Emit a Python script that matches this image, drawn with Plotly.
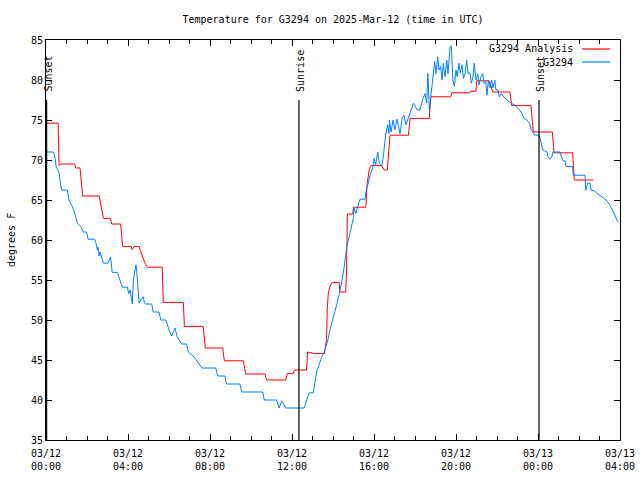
import pandas as pd
import plotly.graph_objects as go

# ---------------- data (hours since 2025-03-12 00:00 UTC, degrees F) -------------
analysis_hours = [0.0, 0.59, 0.64, 0.72, 1.4, 1.45, 1.66, 1.79, 2.6, 2.8, 3.15, 3.2, 3.64, 3.74,
                  4.16, 4.2, 4.3, 4.54, 4.6, 4.86, 4.95, 5.67, 5.72, 6.7, 6.75, 7.67, 7.77,
                  8.62, 8.7, 9.63, 9.74, 10.68, 10.76, 11.69, 11.77, 12.07, 12.11, 12.71,
                  12.76, 13.09, 13.58, 13.69, 13.72, 13.77, 13.85, 13.96, 14.3, 14.33, 14.62,
                  14.66, 14.7, 14.96, 15.0, 15.6, 15.67, 15.76, 15.84, 16.37, 16.5, 16.65,
                  16.68, 16.78, 17.68, 17.76, 18.7, 18.77, 19.74, 19.8, 20.68, 20.72, 20.98,
                  21.0, 21.62, 21.79, 22.63, 22.72, 23.66, 23.77, 24.7, 24.75, 24.78, 25.69,
                  25.77, 26.7]
analysis_temp = [74.6, 74.6, 69.3, 69.5, 69.5, 69.0, 69.0, 65.5, 65.5, 62.7, 62.7, 62.0, 62.0, 59.2,
                 59.2, 58.8, 59.2, 59.2, 58.7, 56.9, 56.6, 56.6, 52.2, 52.2, 49.2, 49.2, 46.5,
                 46.5, 44.9, 44.9, 43.25, 43.25, 42.5, 42.5, 43.3, 43.3, 43.75, 43.75,
                 46.0, 45.8, 45.8, 47.7, 51.4, 53.3, 54.2, 54.7, 54.7, 53.5, 53.5,
                 56.25, 63.25, 63.25, 64.1, 64.1, 67.1, 68.7, 69.3, 69.3, 68.75, 68.75,
                 69.8, 73.1, 73.1, 75.2, 75.2, 77.9, 77.9, 78.4, 78.4, 78.6, 78.6,
                 79.9, 79.9, 78.5, 78.5, 76.8, 76.8, 73.5, 73.5, 72.0, 70.9, 70.9,
                 67.5, 67.5]

obs_hours = [0.0, 0.36, 0.42, 0.5, 0.63, 0.75, 1.04, 1.12, 1.28, 1.41, 1.53, 1.69, 1.82, 1.98,
             2.05, 2.37, 2.44, 2.5, 2.54, 2.59, 2.63, 2.8, 3.02, 3.15, 3.23, 3.48, 3.58, 3.72,
             3.97, 4.03, 4.1, 4.21, 4.26, 4.39, 4.42, 4.54, 4.63, 4.75, 4.8, 4.86, 5.16, 5.23,
             5.51, 5.6, 5.85, 5.97, 6.13, 6.29, 6.4, 6.62, 6.86, 6.94, 7.22, 7.32, 7.6, 8.28,
             8.38, 8.73, 8.81, 9.46, 9.55, 10.57, 10.65, 11.25, 11.37, 11.5, 11.58, 11.69,
             12.59, 12.72, 12.83, 13.04, 13.12, 13.2, 13.32, 13.41, 13.58, 13.69, 13.77,
             13.85, 13.97, 14.06, 14.18, 14.29, 14.42, 14.5, 14.59, 14.67, 14.75, 14.83,
             14.91, 14.99, 15.02, 15.12, 15.19, 15.32, 15.56, 15.64, 15.72, 15.77, 15.83,
             15.94, 16.01, 16.08, 16.18, 16.26, 16.38, 16.45, 16.54, 16.59, 16.67, 16.73,
             16.75, 16.83, 16.93, 17.02, 17.12, 17.19, 17.27, 17.37, 17.46, 17.56, 17.79,
             17.92, 18.11, 18.24, 18.39, 18.49, 18.57, 18.63, 18.7, 18.78, 18.88, 18.96,
             19.02, 19.11, 19.17, 19.25, 19.32, 19.38, 19.46, 19.55, 19.61, 19.71, 19.77,
             19.85, 19.92, 20.0, 20.06, 20.15, 20.21, 20.29, 20.36, 20.44, 20.52, 20.59,
             20.68, 20.75, 20.83, 20.89, 20.98, 21.06, 21.12, 21.22, 21.3, 21.37, 21.45,
             21.51, 21.58, 21.66, 21.74, 21.8, 21.89, 21.95, 22.05, 22.11, 22.2, 22.29,
             22.49, 22.63, 22.83, 23.02, 23.17, 23.32, 23.46, 23.61, 23.67, 23.76, 23.84,
             24.05, 24.1, 24.16, 24.24, 24.44, 24.49, 24.59, 24.68, 24.73, 25.07, 25.14,
             25.22, 25.32, 25.37, 25.69, 25.72, 26.29, 26.33, 26.42, 26.54, 26.59, 26.78,
             26.89, 27.02, 27.17, 27.32, 27.45, 27.56, 27.66, 27.76, 27.85, 27.92]
obs_temp = [71.0, 71.0, 70.6, 69.1, 68.5, 66.25, 66.25, 65.0, 64.2, 63.3, 62.1, 61.7, 61.0, 61.0,
            60.1, 60.1, 59.6, 58.75, 59.1, 58.0, 58.5, 57.1, 57.1, 57.9, 55.95, 55.95, 55.2, 54.1,
            54.1, 53.3, 53.75, 52.0, 55.0, 56.9, 56.25, 52.1, 52.5, 52.9, 52.1, 52.0, 52.0, 51.0,
            51.0, 50.0, 50.0, 49.0, 48.0, 49.0, 47.9, 47.0, 47.0, 46.0, 45.4, 45.0, 44.0, 44.0,
            43.0, 43.0, 42.0, 42.0, 41.0, 41.0, 40.0, 40.0, 39.0, 39.9, 39.6, 39.0,
            39.0, 40.0, 40.9, 40.9, 42.5, 43.5, 44.4, 45.1, 46.0, 46.9, 47.7,
            48.75, 49.8, 50.8, 51.9, 53.1, 54.6, 55.8, 57.5, 59.2, 60.0, 60.8,
            61.9, 62.7, 64.0, 63.3, 64.0, 65.1, 65.1, 66.5, 67.1, 67.7, 68.3,
            69.0, 70.2, 69.4, 71.0, 69.6, 69.2, 70.4, 72.3, 73.5, 74.4, 73.3,
            75.0, 73.5, 75.0, 73.75, 75.1, 74.2, 73.3, 75.2, 75.6, 74.4, 76.25,
            77.1, 76.25, 76.25, 77.7, 78.3, 77.1, 80.8, 76.25, 78.3, 80.0, 82.3,
            80.8, 82.9, 81.25, 81.7, 80.0, 82.1, 80.4, 82.5, 80.8, 84.2, 84.25,
            80.0, 79.2, 81.25, 80.4, 82.1, 80.9, 81.9, 80.2, 80.8, 82.5, 80.8,
            80.9, 79.6, 80.4, 82.1, 80.0, 80.8, 79.4, 80.4, 80.8, 79.6, 79.8,
            78.1, 80.0, 79.0, 80.0, 79.0, 80.0, 78.75, 78.75, 77.9, 78.3, 78.0,
            77.5, 77.2, 76.9, 76.5, 76.0, 75.2, 75.0, 74.5, 73.8, 73.5, 73.1,
            73.1, 72.7, 72.1, 71.25, 71.0, 70.4, 70.1, 70.4, 71.0, 71.0, 70.4,
            69.9, 69.9, 69.2, 69.2, 68.1, 68.1, 66.2, 67.1, 67.1, 66.25, 66.1,
            65.8, 65.6, 65.3, 65.0, 64.6, 64.1, 63.5, 63.0, 62.5, 62.2]

sun_events = ["Sunset", "Sunrise", "Sunset"]
sun_hours = [0.03, 12.34, 24.05]
sun_line_top = 77.5

series_names = ["G3294 Analysis", "G3294"]
series_colors = ["#ff0000", "#0080ff"]

title_text = "Temperature for G3294 on 2025-Mar-12 (time in UTC)"
y_label = "degrees F"
start = pd.Timestamp("2025-03-12 00:00")
end = pd.Timestamp("2025-03-13 04:00")

# ---------------- figure -------------------------------------------------------
def to_time(hours):
    return [start + pd.Timedelta(hours=h) for h in hours]

FONT = "DejaVu Sans Mono"
FW, FH = 640, 480
ML, MR, MT, MB = 46, 20, 40, 40
PW = FW - ML - MR
PH = FH - MT - MB

fig = go.Figure()

fig.add_trace(go.Scatter(x=to_time(analysis_hours), y=analysis_temp, mode="lines",
                         line=dict(color=series_colors[0], width=1), name=series_names[0]))
fig.add_trace(go.Scatter(x=to_time(obs_hours), y=obs_temp, mode="lines",
                         line=dict(color=series_colors[1], width=1), name=series_names[1]))

for name, h in zip(sun_events, sun_hours):
    t = start + pd.Timedelta(hours=h)
    fig.add_trace(go.Scatter(x=[t, t], y=[35, sun_line_top], mode="lines",
                             line=dict(color="black", width=1.2), showlegend=False,
                             hoverinfo="skip"))
    fig.add_annotation(x=t, y=sun_line_top, xref="x", yref="y", text=name, textangle=-90,
                       showarrow=False, xanchor="center", yanchor="bottom", yshift=6, xshift=1,
                       font=dict(family=FONT, size=10, color="black"))

# legend drawn gnuplot-style (text left, sample line right)
leg_px_y = [49, 62]
for i, (name, col) in enumerate(zip(series_names, series_colors)):
    py = 1 - (leg_px_y[i] - MT) / PH
    fig.add_annotation(x=(575 - ML) / PW, y=py, xref="paper", yref="paper", text=name,
                       showarrow=False, xanchor="right", yanchor="middle",
                       font=dict(family=FONT, size=10, color="black"))
    fig.add_shape(type="line", xref="paper", yref="paper", x0=(582 - ML) / PW,
                  x1=(610 - ML) / PW, y0=py, y1=py, line=dict(color=col, width=1.2))

fig.add_annotation(x=(11 - ML) / PW, y=0.5, xref="paper", yref="paper", text=y_label,
                   textangle=-90, showarrow=False, xanchor="center", yanchor="middle",
                   font=dict(family=FONT, size=10, color="black"))

fig.update_layout(
    width=FW, height=FH,
    margin=dict(l=ML, r=MR, t=MT, b=MB, autoexpand=False),
    paper_bgcolor="white", plot_bgcolor="white",
    showlegend=False,
    font=dict(family=FONT, size=10, color="black"),
    title=dict(text=title_text, x=333 / FW, xanchor="center",
               y=1 - 19 / FH, yanchor="middle",
               font=dict(family=FONT, size=10, color="black")),
)
fig.update_xaxes(
    range=[start, end], type="date", automargin=False,
    tick0=start, dtick=4 * 3600 * 1000, tickformat="%m/%d<br>%H:%M",
    ticks="inside", ticklen=6, tickcolor="black", tickwidth=1, ticklabelstandoff=4,
    minor=dict(dtick=3600 * 1000, ticks="inside", ticklen=4, tickcolor="black", tickwidth=1),
    showline=True, linecolor="black", linewidth=1, mirror="ticks",
    showgrid=False, zeroline=False,
    tickfont=dict(family=FONT, size=10, color="black"),
)
fig.update_yaxes(
    range=[35, 85], dtick=5, tick0=35, automargin=False,
    ticks="inside", ticklen=6, tickcolor="black", tickwidth=1,
    showline=True, linecolor="black", linewidth=1, mirror="ticks",
    showgrid=False, zeroline=False,
    tickfont=dict(family=FONT, size=10, color="black"),
)

# remove the browser's default page margin so the 640x480 figure fills the window exactly
fig.write_html("out.html", config={"displayModeBar": False},
               post_script="document.body.style.margin='0';document.body.style.overflow='hidden';")
